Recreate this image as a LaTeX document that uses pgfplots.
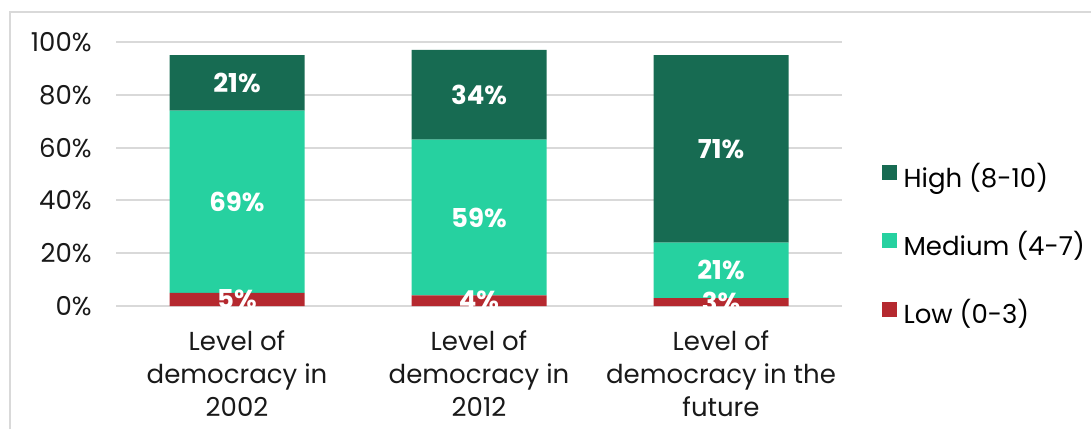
\documentclass[border=0pt]{standalone}
\usepackage{pgfplots}
\pgfplotsset{compat=1.18}
\usepackage{pgfplotstable}
\usepackage{fontspec}
\setmainfont{Poppins}
\definecolor{cHigh}{HTML}{176B52}
\definecolor{cMed}{HTML}{26D1A0}
\definecolor{cLow}{HTML}{B5292F}
\definecolor{cGrid}{HTML}{D9D9D9}
\pgfplotstableread{
x low med high
0 5 69 21
1 4 59 34
2 3 21 71
}\data
\begin{document}
\begin{tikzpicture}
\path[use as bounding box] (0,0) rectangle (545.5pt,214.5pt);
\draw[cGrid, line width=1pt] (5pt,0) -- (5pt,208.5pt) -- (545.5pt,208.5pt);
\begin{axis}[
  at={(58pt,61.5pt)}, anchor=south west,
  scale only axis, width=363pt, height=132pt,
  ybar stacked, bar width=67.5pt,
  xmin=-0.5, xmax=2.5, ymin=0, ymax=100,
  xtick={0,1,2},
  xticklabels={{Level of\\democracy in\\2002},{Level of\\democracy in\\2012},{Level of\\democracy in the\\future}},
  ytick={0,20,...,100},
  yticklabel={\pgfmathprintnumber{\tick}\%},
  /pgf/number format/assume math mode=true,
  axis lines*=left,
  y axis line style={draw=none},
  x axis line style={cGrid, line width=1pt},
  major tick length=0pt,
  ymajorgrids,
  grid style={cGrid, line width=1pt},
  tick label style={font=\fontsize{13}{16.5}\selectfont, text=black!90},
  yticklabel style={inner sep=0pt, xshift=-12pt},
  xticklabel style={inner sep=0pt, yshift=-12pt, align=center},
  point meta=explicit,
  nodes near coords={\pgfmathprintnumber{\pgfplotspointmeta}\%},
  every node near coord/.append style={anchor=center, text=white, font=\bfseries\fontsize{13}{15}\selectfont},
  legend style={at={(1.054,0.222)}, anchor=west, draw=none, fill=none, inner sep=0pt, row sep=20.1pt,
    font=\fontsize{13}{15}\selectfont,
    nodes={inner sep=0pt, text height=9.5pt, text depth=3pt},
    /tikz/every odd column/.append style={column sep=3.5pt}},
  legend cell align=left,
  reverse legend,
  legend image code/.code={\fill[#1] (0pt,0.3pt) rectangle (7.5pt,7.8pt);},
]
\addplot[fill=cLow, draw=none] table[x=x, y=low, meta=low] {\data};
\addplot[fill=cMed, draw=none] table[x=x, y=med, meta=med] {\data};
\addplot[fill=cHigh, draw=none] table[x=x, y=high, meta=high] {\data};
\legend{Low (0-3), Medium (4-7), High (8-10)}
\end{axis}
\end{tikzpicture}
\end{document}
